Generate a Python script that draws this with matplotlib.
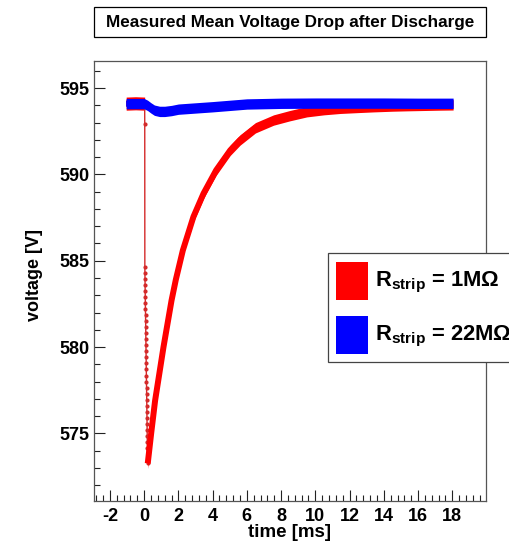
import numpy as np
import matplotlib
matplotlib.use('Agg')
import matplotlib.pyplot as plt
from matplotlib.patches import Rectangle
from matplotlib.ticker import MultipleLocator

plt.rcParams['font.family'] = ['Liberation Sans', 'DejaVu Sans']
plt.rcParams['font.weight'] = 'bold'
plt.rcParams['axes.labelweight'] = 'bold'
plt.rcParams['axes.unicode_minus'] = False
plt.rcParams['mathtext.fontset'] = 'custom'
plt.rcParams['mathtext.rm'] = 'Liberation Sans:bold'
plt.rcParams['mathtext.bf'] = 'Liberation Sans:bold'

# --- data (time in ms, voltage in V) ---
# R_strip = 1 MOhm: flat baseline before the discharge
red_base_t = [-1.05, -0.5, 0.03]
red_base_v = [594.10, 594.12, 594.10]
# fast drop, single samples
red_drop_t = [0.03, 0.035, 0.04, 0.045, 0.05, 0.055, 0.06, 0.065, 0.07, 0.075, 0.08,
              0.085, 0.09, 0.095, 0.10, 0.105, 0.11, 0.115, 0.12, 0.125, 0.13, 0.135,
              0.14, 0.145, 0.15, 0.155, 0.16, 0.165, 0.17, 0.175, 0.18, 0.185, 0.19, 0.20]
red_drop_v = [594.10, 592.90, 584.65, 584.30, 583.95, 583.60, 583.25, 582.90, 582.55,
              582.20, 581.85, 581.50, 581.15, 580.80, 580.45, 580.10, 579.75, 579.40,
              579.05, 578.70, 578.35, 578.00, 577.65, 577.30, 576.95, 576.60, 576.25,
              575.90, 575.55, 575.20, 574.85, 574.50, 574.15, 573.30]
# recovery
red_rec_t = [0.21, 0.41, 0.64, 1.13, 1.60, 1.85, 2.26, 2.88, 3.47, 4.21, 5.03, 5.61,
             6.50, 7.56, 8.50, 9.50, 10.50, 11.46, 12.50, 13.40, 14.50, 15.30, 16.30,
             17.30, 18.05]
red_rec_v = [573.26, 575.00, 576.90, 580.00, 582.70, 583.90, 585.60, 587.55, 588.90,
             590.25, 591.40, 592.00, 592.70, 593.15, 593.40, 593.63, 593.75, 593.83,
             593.88, 593.92, 593.96, 593.98, 594.00, 594.02, 594.03]

# R_strip = 22 MOhm
blue_t = [-1.05, -0.5, 0.0, 0.2, 0.4, 0.6, 0.9, 1.2, 1.6, 2.0, 3.0, 4.0, 5.0, 6.0,
          8.0, 10.0, 12.0, 14.0, 16.0, 18.05]
blue_v = [594.10, 594.10, 594.10, 594.00, 593.85, 593.72, 593.65, 593.65, 593.70,
          593.78, 593.85, 593.92, 594.00, 594.08, 594.12, 594.13, 594.13, 594.13,
          594.12, 594.12]

labels = [r'R$_{\mathbf{strip}}$ = 1MΩ', r'R$_{\mathbf{strip}}$ = 22MΩ']
colors = ['#ff0000', '#0000ff']

W, H = 510, 542


def fx(px):
    return px / W


def fy(py):
    return 1 - py / H


def band(ax, t, v, color, z, spread=0.3):
    # noisy trace: +-spread V plus the marker width
    t = np.asarray(t)
    v = np.asarray(v)
    ax.fill_between(t, v - spread, v + spread, color=color, lw=0, zorder=z)
    ax.plot(t, v, color=color, lw=4.3, solid_capstyle='butt',
            solid_joinstyle='round', zorder=z)


fig = plt.figure(figsize=(W / 100, H / 100), dpi=100)
ax = fig.add_axes([fx(94), fy(501), fx(392), 440 / H])

band(ax, red_base_t, red_base_v, colors[0], 2, spread=0.38)
ax.plot(red_drop_t, red_drop_v, color='#d42a2a', lw=1.0, marker='o', ms=3.0,
        mec='none', zorder=2)
band(ax, red_rec_t, red_rec_v, colors[0], 2)
band(ax, blue_t, blue_v, colors[1], 3)

ax.set_xlim(-2.93, 19.97)
ax.set_ylim(571.08, 596.57)
ax.xaxis.set_major_locator(MultipleLocator(2))
ax.xaxis.set_minor_locator(MultipleLocator(0.4))
ax.yaxis.set_major_locator(MultipleLocator(5))
ax.yaxis.set_minor_locator(MultipleLocator(1))
ax.tick_params(which='both', direction='in', top=False, right=False, width=0.8,
               color='#222222')
ax.tick_params(which='major', length=8)
ax.tick_params(which='minor', length=4)
ax.tick_params(axis='y', labelsize=13, pad=3)
ax.tick_params(axis='x', labelsize=13, pad=5)
for s in ax.spines.values():
    s.set_color('#555555')
    s.set_linewidth(0.9)

ax.set_ylabel('voltage [V]', fontsize=13, va='center')
ax.yaxis.set_label_coords(-0.152, 0.514)
ax.set_xlabel('time [ms]', fontsize=13.5)
ax.xaxis.set_label_coords(0.5, -0.052)

# title box
fig.patches.append(Rectangle((fx(94), fy(37)), fx(392), 30 / H, transform=fig.transFigure,
                             fill=True, fc='white', ec='black', lw=0.9))
fig.text(fx(290), fy(26.7), 'Measured Mean Voltage Drop after Discharge',
         ha='center', va='baseline', fontsize=12.3)

# legend box (runs past the right edge as in the reference)
fig.patches.append(Rectangle((fx(328), fy(362)), fx(220), 109 / H, transform=fig.transFigure,
                             fc='white', ec='#444444', lw=0.9, zorder=5))
for i, (lab, c) in enumerate(zip(labels, colors)):
    top = 262 + i * 54
    fig.patches.append(Rectangle((fx(336), fy(top + 38)), fx(32), 38 / H,
                                 transform=fig.transFigure, fc=c, ec='none', zorder=6))
    fig.text(fx(375), fy(top + 24), lab, ha='left', va='baseline', fontsize=15.8,
             zorder=7)

fig.savefig('out.png', dpi=100)
